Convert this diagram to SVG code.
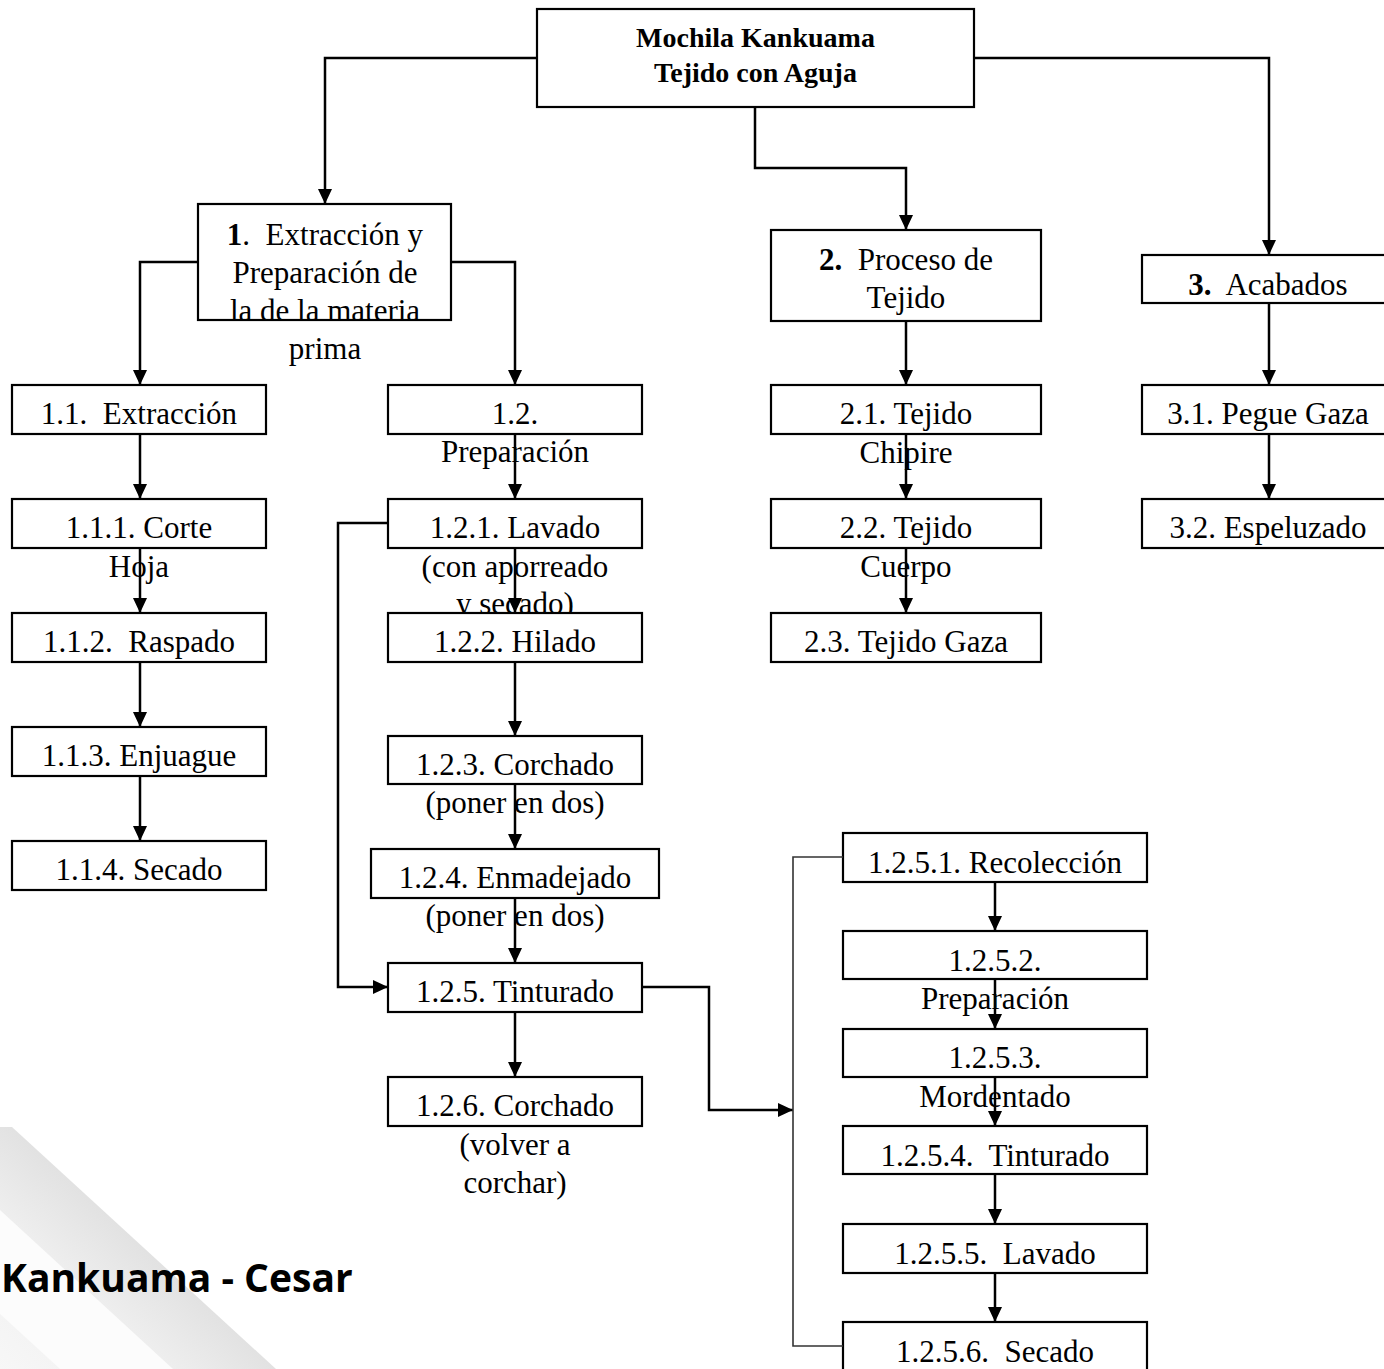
<svg xmlns="http://www.w3.org/2000/svg" width="1384" height="1369" viewBox="0 0 1384 1369">
<style>
.box{fill:#fff;stroke:#000;stroke-width:2.2}
.t{font-family:"Liberation Serif","Times New Roman",serif;font-size:31px;fill:#000;text-anchor:middle;white-space:pre}
.b{font-weight:bold}
.title{font-family:"Liberation Serif","Times New Roman",serif;font-size:28px;font-weight:bold;fill:#000;text-anchor:middle;white-space:pre}
.c{fill:none;stroke:#000;stroke-width:2.5;marker-end:url(#ah)}
.br{fill:none;stroke:#333;stroke-width:1.6}
.wm{font-family:"Open Sans","Liberation Sans",sans-serif;font-size:39px;font-weight:bold;fill:#000}
</style>
<defs>
<marker id="ah" viewBox="0 0 15 14" refX="15" refY="7" markerWidth="15" markerHeight="14" markerUnits="userSpaceOnUse" orient="auto"><path d="M0,0 L15,7 L0,14 z" fill="#000"/></marker>
<linearGradient id="wmg" gradientUnits="userSpaceOnUse" x1="0" y1="1369" x2="125" y2="1232"><stop offset="0" stop-color="#f7f7f7"/><stop offset="0.6" stop-color="#efefef"/><stop offset="1" stop-color="#e2e2e2"/></linearGradient>
</defs>
<rect x="0" y="0" width="1384" height="1369" fill="#fff"/>
<g id="watermark">
<polygon points="0,1127 12,1127 276,1369 0,1369" fill="url(#wmg)"/>
<polygon points="0,1210 173,1369 60,1369 0,1314" fill="#fcfcfc"/>
<text class="wm" x="1" y="1292">Kankuama - Cesar</text>
</g>
<g id="n0"><rect class="box" x="537" y="9" width="437" height="98"/><text class="title" x="755.5" y="47">Mochila Kankuama</text><text class="title" x="755.5" y="82">Tejido con Aguja</text></g>
<g id="n1"><rect class="box" x="198" y="204" width="253" height="116"/><text class="t" x="325" y="245"><tspan class="b">1</tspan>.  Extracción y</text><text class="t" x="325" y="283">Preparación de</text><text class="t" x="325" y="321">la de la materia</text><text class="t" x="325" y="359">prima</text></g>
<g id="n11"><rect class="box" x="12" y="385" width="254" height="49"/><text class="t" x="139" y="424">1.1.  Extracción</text></g>
<g id="n111"><rect class="box" x="12" y="499" width="254" height="49"/><text class="t" x="139" y="538">1.1.1. Corte</text><text class="t" x="139" y="577">Hoja</text></g>
<g id="n112"><rect class="box" x="12" y="613" width="254" height="49"/><text class="t" x="139" y="652">1.1.2.  Raspado</text></g>
<g id="n113"><rect class="box" x="12" y="727" width="254" height="49"/><text class="t" x="139" y="766">1.1.3. Enjuague</text></g>
<g id="n114"><rect class="box" x="12" y="841" width="254" height="49"/><text class="t" x="139" y="880">1.1.4. Secado</text></g>
<g id="n12"><rect class="box" x="388" y="385" width="254" height="49"/><text class="t" x="515" y="424">1.2.</text><text class="t" x="515" y="462">Preparación</text></g>
<g id="n121"><rect class="box" x="388" y="499" width="254" height="49"/><text class="t" x="515" y="538">1.2.1. Lavado</text><text class="t" x="515" y="577">(con aporreado</text><text class="t" x="515" y="614">y secado)</text></g>
<g id="n122"><rect class="box" x="388" y="613" width="254" height="49"/><text class="t" x="515" y="652">1.2.2. Hilado</text></g>
<g id="n123"><rect class="box" x="388" y="736" width="254" height="48"/><text class="t" x="515" y="775">1.2.3. Corchado</text><text class="t" x="515" y="813">(poner en dos)</text></g>
<g id="n124"><rect class="box" x="371" y="849" width="288" height="49"/><text class="t" x="515" y="888">1.2.4. Enmadejado</text><text class="t" x="515" y="926">(poner en dos)</text></g>
<g id="n125"><rect class="box" x="388" y="963" width="254" height="49"/><text class="t" x="515" y="1002">1.2.5. Tinturado</text></g>
<g id="n126"><rect class="box" x="388" y="1077" width="254" height="49"/><text class="t" x="515" y="1116">1.2.6. Corchado</text><text class="t" x="515" y="1155">(volver a</text><text class="t" x="515" y="1193">corchar)</text></g>
<g id="n2"><rect class="box" x="771" y="230" width="270" height="91"/><text class="t" x="906" y="270"><tspan class="b">2.</tspan>  Proceso de</text><text class="t" x="906" y="308">Tejido</text></g>
<g id="n21"><rect class="box" x="771" y="385" width="270" height="49"/><text class="t" x="906" y="424">2.1. Tejido</text><text class="t" x="906" y="463">Chipire</text></g>
<g id="n22"><rect class="box" x="771" y="499" width="270" height="49"/><text class="t" x="906" y="538">2.2. Tejido</text><text class="t" x="906" y="577">Cuerpo</text></g>
<g id="n23"><rect class="box" x="771" y="613" width="270" height="49"/><text class="t" x="906" y="652">2.3. Tejido Gaza</text></g>
<g id="n3"><rect class="box" x="1142" y="255" width="254" height="48"/><text class="t" x="1268" y="295"><tspan class="b">3.</tspan>  Acabados</text></g>
<g id="n31"><rect class="box" x="1142" y="385" width="254" height="49"/><text class="t" x="1268" y="424">3.1. Pegue Gaza</text></g>
<g id="n32"><rect class="box" x="1142" y="499" width="254" height="49"/><text class="t" x="1268" y="538">3.2. Espeluzado</text></g>
<g id="n1251"><rect class="box" x="843" y="833" width="304" height="49"/><text class="t" x="995" y="873">1.2.5.1. Recolección</text></g>
<g id="n1252"><rect class="box" x="843" y="931" width="304" height="48"/><text class="t" x="995" y="971">1.2.5.2.</text><text class="t" x="995" y="1009">Preparación</text></g>
<g id="n1253"><rect class="box" x="843" y="1029" width="304" height="48"/><text class="t" x="995" y="1068">1.2.5.3.</text><text class="t" x="995" y="1107">Mordentado</text></g>
<g id="n1254"><rect class="box" x="843" y="1126" width="304" height="48"/><text class="t" x="995" y="1166">1.2.5.4.  Tinturado</text></g>
<g id="n1255"><rect class="box" x="843" y="1224" width="304" height="49"/><text class="t" x="995" y="1264">1.2.5.5.  Lavado</text></g>
<g id="n1256"><rect class="box" x="843" y="1322" width="304" height="60"/><text class="t" x="995" y="1362">1.2.5.6.  Secado</text></g>
<g id="connectors">
<path class="c" d="M537,58 H325 V204"/>
<path class="c" d="M755,107 V168 H906 V230"/>
<path class="c" d="M974,58 H1269 V255"/>
<path class="c" d="M198,262 H140 V385"/>
<path class="c" d="M451,262 H515 V385"/>
<path class="c" d="M140,434 V499"/>
<path class="c" d="M140,548 V613"/>
<path class="c" d="M140,662 V727"/>
<path class="c" d="M140,776 V841"/>
<path class="c" d="M515,434 V499"/>
<path class="c" d="M515,548 V613"/>
<path class="c" d="M515,662 V736"/>
<path class="c" d="M515,784 V849"/>
<path class="c" d="M515,898 V963"/>
<path class="c" d="M515,1012 V1077"/>
<path class="c" d="M388,523 H338 V987 H388"/>
<path class="c" d="M642,987 H709 V1110 H793"/>
<path class="br" d="M843,857 H793 V1346 H843"/>
<path class="c" d="M906,321 V385"/>
<path class="c" d="M906,434 V499"/>
<path class="c" d="M906,548 V613"/>
<path class="c" d="M1269,303 V385"/>
<path class="c" d="M1269,434 V499"/>
<path class="c" d="M995,882 V931"/>
<path class="c" d="M995,979 V1029"/>
<path class="c" d="M995,1077 V1126"/>
<path class="c" d="M995,1174 V1224"/>
<path class="c" d="M995,1273 V1322"/>
</g>
</svg>
